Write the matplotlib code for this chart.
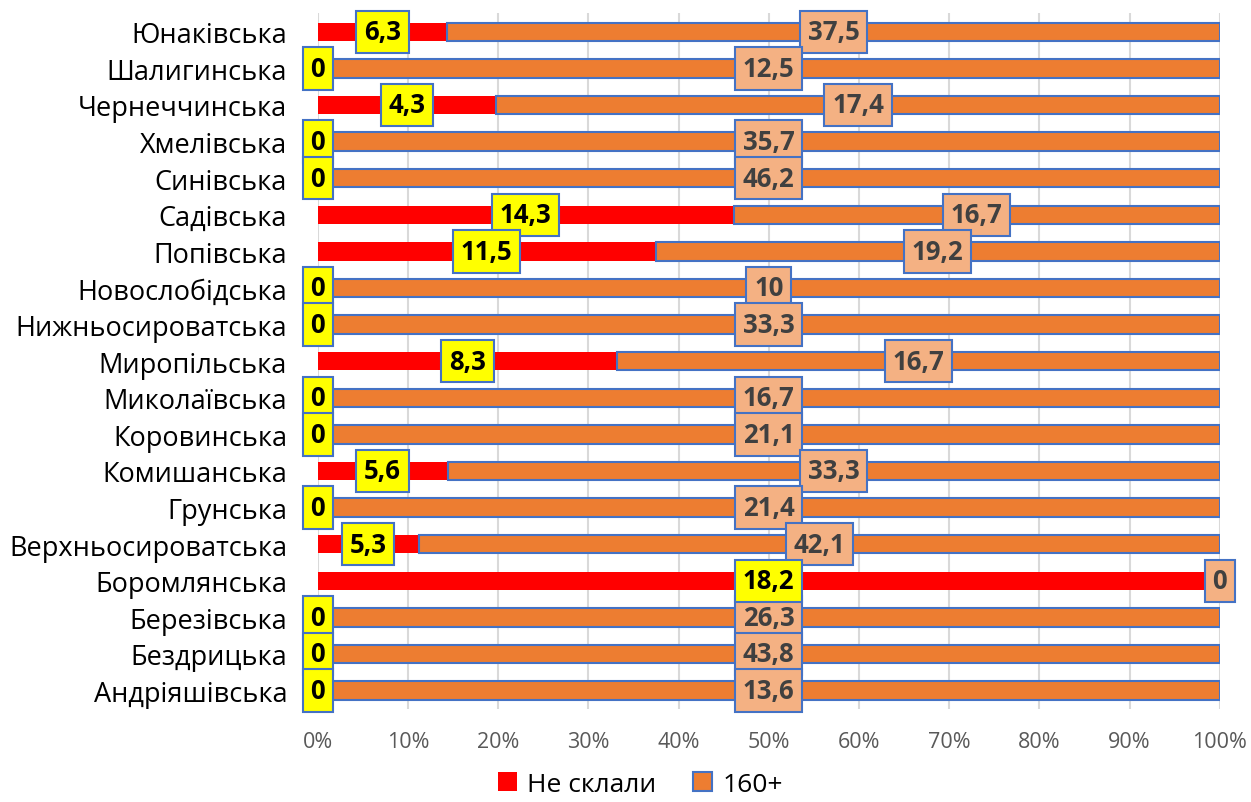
import numpy as np
import matplotlib.pyplot as plt
from matplotlib.ticker import PercentFormatter

plt.rcParams['font.family'] = ['Open Sans', 'DejaVu Sans']

hromady = ['Юнаківська', 'Шалигинська', 'Чернеччинська', 'Хмелівська', 'Синівська',
           'Садівська', 'Попівська', 'Новослобідська', 'Нижньосироватська', 'Миропільська',
           'Миколаївська', 'Коровинська', 'Комишанська', 'Грунська', 'Верхньосироватська',
           'Боромлянська', 'Березівська', 'Бездрицька', 'Андріяшівська']
ne_sklaly = [6.3, 0, 4.3, 0, 0, 14.3, 11.5, 0, 0, 8.3, 0, 0, 5.6, 0, 5.3, 18.2, 0, 0, 0]
plus160 = [37.5, 12.5, 17.4, 35.7, 46.2, 16.7, 19.2, 10, 33.3, 16.7, 16.7, 21.1, 33.3,
           21.4, 42.1, 0, 26.3, 43.8, 13.6]

red = np.array(ne_sklaly)
org = np.array(plus160)
total = red + org
red_pct = red / total * 100
org_pct = org / total * 100

n = len(hromady)
y = np.arange(n)[::-1]

fig = plt.figure(figsize=(12.51, 8.03), dpi=100)
ax = fig.add_axes([0.254, 0.116, 0.721, 0.866])

ax.barh(y, red_pct, height=0.5, color='#FF0000', label='Не склали', zorder=2)
ax.barh(y, org_pct, left=red_pct, height=0.5, color='#ED7D31', edgecolor='#4472C4',
        linewidth=1.5, label='160+', zorder=2)


def fmt(v):
    return ('%g' % v).replace('.', ',')


for yi, v, rp in zip(y, red, red_pct):
    ax.text(rp / 2, yi, fmt(v), ha='center', va='center', fontsize=18.5, fontweight='bold',
            color='black', zorder=4,
            bbox=dict(boxstyle='square,pad=0.3', fc='#FFFF00', ec='#4472C4', lw=1.5))
for yi, v, rp, op in zip(y, org, red_pct, org_pct):
    ax.text(rp + op / 2, yi, fmt(v), ha='center', va='center', fontsize=18.5, fontweight='bold',
            color='#404040', zorder=3,
            bbox=dict(boxstyle='square,pad=0.3', fc='#F4B183', ec='#4472C4', lw=1.5))

ax.set_xlim(0, 100)
ax.set_ylim(-0.5, n - 0.5)
ax.set_yticks(y)
ax.set_yticklabels(hromady, fontsize=19.5)
ax.set_xticks(np.arange(0, 101, 10))
ax.xaxis.set_major_formatter(PercentFormatter(decimals=0))
ax.tick_params(axis='x', labelsize=15.5, labelcolor='#595959', length=0, pad=16)
ax.tick_params(axis='y', length=0, pad=22)
ax.grid(axis='x', color='#D9D9D9', linewidth=1.5, zorder=0)
ax.set_axisbelow(True)
for s in ax.spines.values():
    s.set_visible(False)

fig.legend(loc='center', bbox_to_anchor=(0.512, 0.022), ncol=2, frameon=False,
           fontsize=19, handlelength=0.7, handleheight=0.7, columnspacing=1.4,
           handletextpad=0.4, borderpad=0.2)

fig.savefig('out.png', dpi=100)
